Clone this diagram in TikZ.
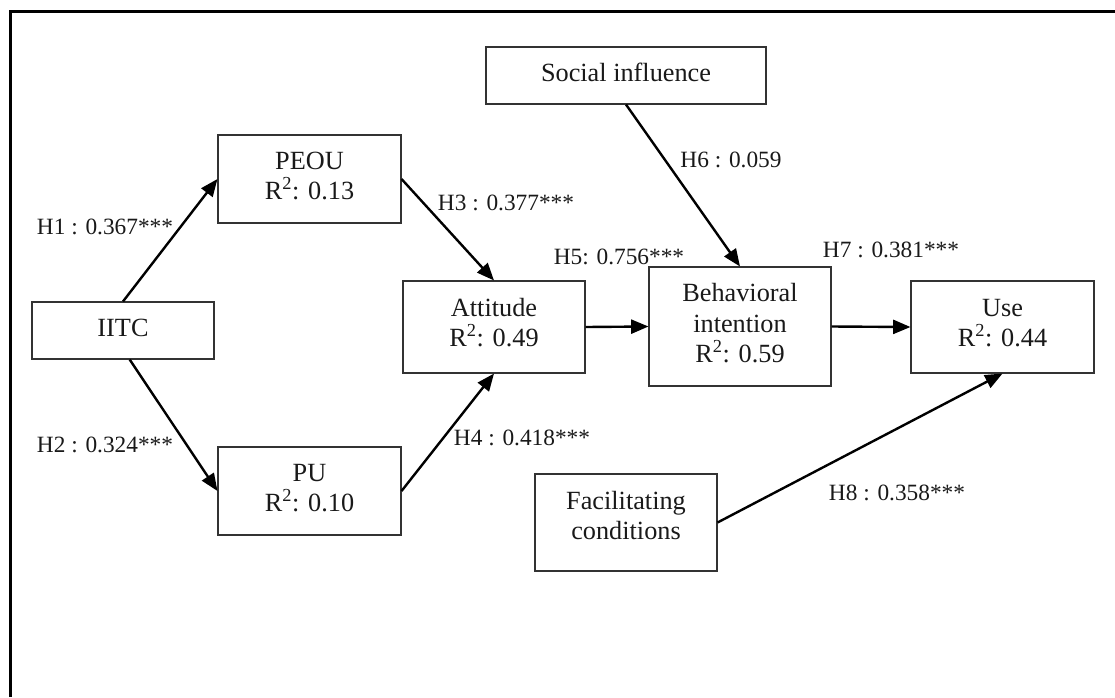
\documentclass[tikz,border=0pt]{standalone}
\usepackage{fontspec}
\setmainfont{Liberation Serif}
\usetikzlibrary{arrows.meta}
\begin{document}
\begin{tikzpicture}[x=0.75pt,y=-0.75pt,
  box/.style 2 args={draw=black!80, line width=0.8pt, inner sep=0pt,
    minimum width=#1*0.75pt, minimum height=#2*0.75pt},
  boxtext/.style={font=\fontsize{19.7}{22.6}\selectfont, align=center,
    inner sep=0pt, text=black!90},
  lab/.style={font=\fontsize{17.5}{21}\selectfont, inner sep=0pt, text=black!90},
  conn/.style={-{Triangle[length=13pt,width=10.5pt]}, line width=1.8pt}]
\useasboundingbox (0,0) rectangle (1115,697);

% frame (top and left edges)
\draw[line width=2.2pt] (10.3,697) -- (10.3,11.3) -- (1115,11.3);

% construct boxes
\node[box={182}{57}]  (iitc) at (123,330.5) {};
\node[box={183}{88}]  (peou) at (309.5,179) {};
\node[box={183}{88}]  (pu)   at (309.5,491) {};
\node[box={182}{92}]  (att)  at (494,327) {};
\node[box={280}{57}]  (soc)  at (626,75.5) {};
\node[box={182}{119}] (bi)   at (740,326.5) {};
\node[box={183}{92}]  (use)  at (1002.5,327) {};
\node[box={182}{97}]  (fac)  at (626,522.5) {};

% box texts
\node[boxtext] (iitct) at ([yshift=2pt]iitc.center) {IITC};
\node[boxtext] (peout) at ([yshift=2.5pt]peou.center) {PEOU\\R\textsuperscript{2}: 0.13};
\node[boxtext] (put)   at ([yshift=2.5pt]pu.center) {PU\\R\textsuperscript{2}: 0.10};
\node[boxtext] (attt)  at ([yshift=3pt]att.center) {Attitude\\R\textsuperscript{2}: 0.49};
\node[boxtext] (soct)  at ([yshift=2pt]soc.center) {Social influence};
\node[boxtext] (bit)   at ([yshift=2.5pt]bi.center) {Behavioral\\intention\\R\textsuperscript{2}: 0.59};
\node[boxtext] (uset)  at ([yshift=3pt]use.center) {Use\\R\textsuperscript{2}: 0.44};
\node[boxtext] (fact)  at ([yshift=5.5pt]fac.center) {Facilitating\\conditions};

% paths
\draw[conn] (iitc.north) -- (peou.west);
\draw[conn] ([xshift=5pt]iitc.south) -- (pu.west);
\draw[conn] (peou.east) -- (att.north);
\draw[conn] (pu.east) -- (att.south);
\draw[conn] (att.east) -- (bi.west);
\draw[conn] (soc.south) -- (bi.north);
\draw[conn] (bi.east) -- (use.west);
\draw[conn] (fac.east) -- (use.south);

% path coefficients
\node[lab] (h1) at (105,227) {H1 : 0.367***};
\node[lab] (h2) at (105,445) {H2 : 0.324***};
\node[lab] (h3) at (506,203) {H3 : 0.377***};
\node[lab] (h4) at (522,438) {H4 : 0.418***};
\node[lab] (h5) at (619,257) {H5: 0.756***};
\node[lab] (h6) at (731,160) {H6 : 0.059};
\node[lab] (h7) at (891,250) {H7 : 0.381***};
\node[lab] (h8) at (897,493) {H8 : 0.358***};
\end{tikzpicture}
\end{document}
